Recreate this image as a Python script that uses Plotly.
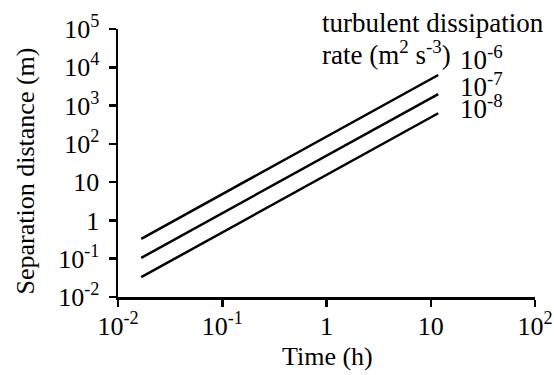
import plotly.graph_objects as go

# ---- data ----
time_h = [0.0167, 11.8]
sep_1e6 = [0.33, 6300]
sep_1e7 = [0.105, 2000]
sep_1e8 = [0.033, 630]

x_tickvals = [0.01, 0.1, 1, 10, 100]
x_ticktext = ["10<sup>-2</sup>", "10<sup>-1</sup>", "1", "10", "10<sup>2</sup>"]
y_tickvals = [0.01, 0.1, 1, 10, 100, 1000, 10000, 100000]
y_ticktext = ["10<sup>-2</sup>", "10<sup>-1</sup>", "1", "10", "10<sup>2</sup>",
              "10<sup>3</sup>", "10<sup>4</sup>", "10<sup>5</sup>"]

eps_labels = ["10<sup>-6</sup>", "10<sup>-7</sup>", "10<sup>-8</sup>"]

FONT = "Liberation Serif"
W, H = 554, 375
L, T = 117.5, 29
PW, PH = 417.5, 268.3
R = W - L - PW
B = H - T - PH

fig = go.Figure()
for ys in (sep_1e6, sep_1e7, sep_1e8):
    fig.add_trace(go.Scatter(x=time_h, y=ys, mode="lines",
                             line=dict(color="black", width=2.5),
                             showlegend=False, hoverinfo="skip"))

def px_to_paper(px, py):
    return (px - L) / PW, (H - B - py) / PH

annots = []
def add_text(txt, px, py, xanchor="left", size=26, yanchor="middle", textangle=0):
    x, y = px_to_paper(px, py)
    annots.append(dict(text=txt, x=x, y=y, xref="paper", yref="paper",
                       xanchor=xanchor, yanchor=yanchor, showarrow=False,
                       textangle=textangle,
                       font=dict(family=FONT, size=size, color="black")))

add_text("turbulent dissipation", 320, 23, size=27)
add_text("rate (m<sup>2</sup> s<sup>-3</sup>)", 320, 53, size=27)
add_text(eps_labels[0], 458, 58, size=27)
add_text(eps_labels[1], 458, 85, size=27)
add_text(eps_labels[2], 458, 107, size=27)
add_text("Time (h)", 327, 357, xanchor="center", size=26)
add_text("Separation distance (m)", 25, 171, xanchor="center", size=26, textangle=-90)

axis_common = dict(type="log", showline=True, linecolor="black", linewidth=2.5,
                   ticks="outside", ticklen=7, tickwidth=2.5, tickcolor="black",
                   showgrid=False, zeroline=False, automargin=False,
                   tickfont=dict(family=FONT, size=26, color="black"))

fig.update_layout(
    width=W, height=H,
    margin=dict(l=L, r=R, t=T, b=B, pad=0, autoexpand=False),
    paper_bgcolor="white", plot_bgcolor="white",
    font=dict(family=FONT, color="black"),
    xaxis=dict(range=[-2, 2], tickmode="array", tickvals=x_tickvals,
               ticktext=x_ticktext, ticklabelstandoff=-3, **axis_common),
    yaxis=dict(range=[-2, 5], tickmode="array", tickvals=y_tickvals,
               ticktext=y_ticktext, ticklabelstandoff=4, **axis_common),
    annotations=annots,
)

fig.write_html(
    "out.html",
    config={"displayModeBar": False, "staticPlot": True},
    post_script="document.body.style.margin='0';document.body.style.overflow='hidden';",
)
